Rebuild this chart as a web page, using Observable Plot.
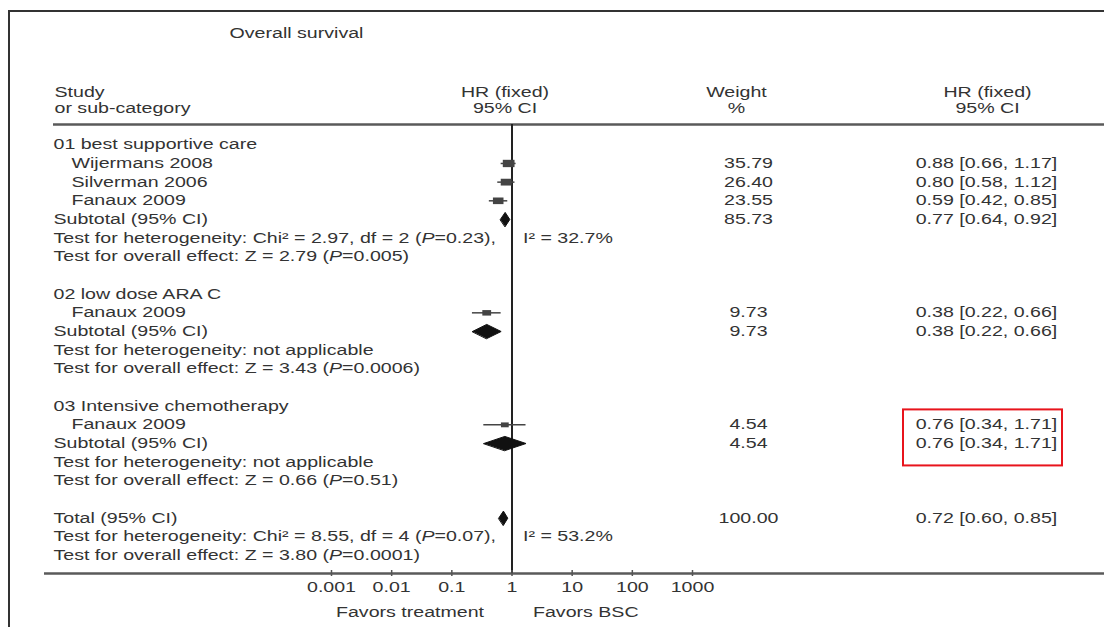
<!DOCTYPE html>
<html>
<head>
<meta charset="utf-8">
<script src="https://cdn.jsdelivr.net/npm/d3@7"></script>
<script src="https://cdn.jsdelivr.net/npm/@observablehq/plot@0.6"></script>
<style>
  html, body { margin: 0; padding: 0; background: #fff; }
  #wrap { position: relative; width: 1104px; height: 627px; overflow: hidden; }
  #border { position: absolute; left: 8px; top: 10px; width: 1200px; height: 700px;
            border-left: 2px solid #333; border-top: 2px solid #333; }
  #chart { position: absolute; left: 0; top: 0; }
</style>
</head>
<body>
<div id="wrap"><div id="border"></div><div id="chart"></div></div>
<script>
// ---------- data ----------
const title = "Overall survival";
const groups = ["01 best supportive care", "02 low dose ARA C", "03 Intensive chemotherapy"];
const studies = ["Wijermans 2008", "Silverman 2006", "Fanaux 2009", "Fanaux 2009", "Fanaux 2009"];
const studyGroup = [0, 0, 0, 1, 2];
const studyHR = [0.88, 0.80, 0.59, 0.38, 0.76];
const studyLo = [0.66, 0.58, 0.42, 0.22, 0.34];
const studyHi = [1.17, 1.12, 0.85, 0.66, 1.71];
const studyWeight = [35.79, 26.40, 23.55, 9.73, 4.54];
const subtotalHR = [0.77, 0.38, 0.76];
const subtotalLo = [0.64, 0.22, 0.34];
const subtotalHi = [0.92, 0.66, 1.71];
const subtotalWeight = [85.73, 9.73, 4.54];
const heterogeneity = [
  "Test for heterogeneity: Chi² = 2.97, df = 2 (P=0.23),",
  "Test for heterogeneity: not applicable",
  "Test for heterogeneity: not applicable"
];
const i2Text = ["I² = 32.7%", null, null];
const overallEffect = [
  "Test for overall effect: Z = 2.79 (P=0.005)",
  "Test for overall effect: Z = 3.43 (P=0.0006)",
  "Test for overall effect: Z = 0.66 (P=0.51)"
];
const totalHR = [0.72];
const totalLo = [0.60];
const totalHi = [0.85];
const totalWeight = [100.00];
const totalHet = ["Test for heterogeneity: Chi² = 8.55, df = 4 (P=0.07),"];
const totalI2 = ["I² = 53.2%"];
const totalOverall = ["Test for overall effect: Z = 3.80 (P=0.0001)"];
const tickValues = [0.001, 0.01, 0.1, 1, 10, 100, 1000];
const tickLabels = ["0.001", "0.01", "0.1", "1", "10", "100", "1000"];
const headerLeft = ["Study", "or sub-category"];
const headerMid = ["HR (fixed)", "95% CI"];
const headerWeight = ["Weight", "%"];
const headerRight = ["HR (fixed)", "95% CI"];
const favors = ["Favors treatment", "Favors BSC"];
const highlighted = ["study:4", "subtotal:2"]; // rows boxed in red

// ---------- layout (pixels -> row units) ----------
const ROW0 = 144.3, ROWH = 18.67, AXISY = 573;
const yAt = px => (px - ROW0) / ROWH;

// ---------- build table rows ----------
const f2 = d3.format(".2f");
const ciText = (h, l, u) => `${f2(h)} [${f2(l)}, ${f2(u)}]`;
const leftRows = [], studyRows = [], diamondRows = [], i2Rows = [], numRows = [];
const rowOf = {};
let r = 0;
groups.forEach((g, gi) => {
  leftRows.push({row: r++, text: g});
  studies.forEach((s, si) => {
    if (studyGroup[si] !== gi) return;
    const d = {row: r, name: s, hr: studyHR[si], lo: studyLo[si], hi: studyHi[si], w: studyWeight[si]};
    studyRows.push(d);
    numRows.push({row: r, w: f2(d.w), ci: ciText(d.hr, d.lo, d.hi)});
    rowOf["study:" + si] = r;
    r++;
  });
  leftRows.push({row: r, text: "Subtotal (95% CI)"});
  diamondRows.push({row: r, hr: subtotalHR[gi], lo: subtotalLo[gi], hi: subtotalHi[gi], id: "s" + gi});
  numRows.push({row: r, w: f2(subtotalWeight[gi]), ci: ciText(subtotalHR[gi], subtotalLo[gi], subtotalHi[gi])});
  rowOf["subtotal:" + gi] = r;
  r++;
  leftRows.push({row: r, text: heterogeneity[gi]});
  if (i2Text[gi]) i2Rows.push({row: r, text: i2Text[gi]});
  r++;
  leftRows.push({row: r++, text: overallEffect[gi]});
  r++; // blank line
});
leftRows.push({row: r, text: "Total (95% CI)"});
diamondRows.push({row: r, hr: totalHR[0], lo: totalLo[0], hi: totalHi[0], id: "t"});
numRows.push({row: r, w: f2(totalWeight[0]), ci: ciText(totalHR[0], totalLo[0], totalHi[0])});
r++;
leftRows.push({row: r, text: totalHet[0]});
i2Rows.push({row: r, text: totalI2[0]});
r++;
leftRows.push({row: r++, text: totalOverall[0]});

// diamond polygons
const HALF = 0.38;
const diamondPts = diamondRows.flatMap(d => [
  {x: d.lo, y: d.row, id: d.id},
  {x: d.hr, y: d.row - HALF, id: d.id},
  {x: d.hi, y: d.row, id: d.id},
  {x: d.hr, y: d.row + HALF, id: d.id}
]);

// wide box symbol (area from weight)
const wideBox = {
  draw(ctx, size) {
    const rr = Math.sqrt(size / Math.PI);
    const h = 3.5 + rr * 0.55, w = h * 1.6;
    ctx.moveTo(-w / 2, -h / 2); ctx.lineTo(w / 2, -h / 2);
    ctx.lineTo(w / 2, h / 2); ctx.lineTo(-w / 2, h / 2); ctx.closePath();
  }
};

const hlRows = highlighted.map(k => rowOf[k]);
const box = [{y1: d3.min(hlRows) - 0.8, y2: d3.max(hlRows) + 1.2}];

const TXT = "#333";
const plot = Plot.plot({
  width: 1104, height: 627,
  marginLeft: 0, marginRight: 0, marginTop: 0, marginBottom: 627 - AXISY,
  x: {type: "log", domain: [0.001, 1000], range: [331, 692], axis: null},
  y: {type: "linear", domain: [yAt(0), yAt(AXISY)], range: [0, AXISY], axis: null},
  r: {type: "sqrt", domain: [0, 36], range: [0, 7]},
  style: {fontFamily: "'Liberation Sans', Arial, Helvetica, sans-serif", fontSize: "14px", color: TXT, background: "transparent", overflow: "visible"},
  marks: [
    // title and headers
    Plot.text([title], {y: yAt(33), text: d => d, frameAnchor: "left", dx: 296, textAnchor: "middle"}),
    Plot.text(headerLeft, {y: (d, i) => yAt(92 + 16.5 * i), text: d => d, frameAnchor: "left", dx: 54, textAnchor: "start"}),
    Plot.text(headerMid, {x: 1, y: (d, i) => yAt(92 + 16.5 * i), text: d => d, dx: -7, textAnchor: "middle"}),
    Plot.text(headerWeight, {y: (d, i) => yAt(92 + 16.5 * i), text: d => d, frameAnchor: "left", dx: 736, textAnchor: "middle"}),
    Plot.text(headerRight, {y: (d, i) => yAt(92 + 16.5 * i), text: d => d, frameAnchor: "left", dx: 987, textAnchor: "middle"}),
    // header rule and axis rule
    Plot.ruleY([yAt(124)], {insetLeft: 53, stroke: "#5a5a5a", strokeWidth: 2.5}),
    Plot.ruleY([yAt(AXISY)], {insetLeft: 44, stroke: "#5a5a5a", strokeWidth: 2.5}),
    // line of no effect
    Plot.ruleX([1], {y1: yAt(124), y2: yAt(AXISY), stroke: "#222", strokeWidth: 2}),
    // axis ticks & labels
    Plot.ruleX(tickValues, {y1: yAt(AXISY - 3), y2: yAt(AXISY + 3), stroke: "#555", strokeWidth: 1.5}),
    Plot.text(tickValues, {x: d => d, y: yAt(587), text: (d, i) => tickLabels[i], textAnchor: "middle"}),
    Plot.text([favors[0]], {x: 1, y: yAt(612), text: d => d, dx: -28, textAnchor: "end"}),
    Plot.text([favors[1]], {x: 1, y: yAt(612), text: d => d, dx: 21, textAnchor: "start"}),
    // left column text
    Plot.text(leftRows, {y: "row", text: "text", frameAnchor: "left", dx: 53, textAnchor: "start"}),
    Plot.text(studyRows, {y: "row", text: "name", frameAnchor: "left", dx: 71, textAnchor: "start"}),
    Plot.text(i2Rows, {x: 1, y: "row", text: "text", dx: 11, textAnchor: "start"}),
    // numbers
    Plot.text(numRows, {y: "row", text: "w", frameAnchor: "left", dx: 748, textAnchor: "middle"}),
    Plot.text(numRows, {y: "row", text: "ci", frameAnchor: "left", dx: 986, textAnchor: "middle"}),
    // study CIs and boxes
    Plot.ruleY(studyRows, {x1: "lo", x2: "hi", y: "row", stroke: "#444", strokeWidth: 1.5}),
    Plot.dot(studyRows, {x: "hr", y: "row", r: "w", symbol: wideBox, fill: "#444", stroke: "none"}),
    // diamonds
    Plot.line(diamondPts, {x: "x", y: "y", z: "id", curve: "linear-closed", fill: "#111", stroke: "#111", strokeWidth: 1}),
    // highlight box
    Plot.rect(box, {y1: "y1", y2: "y2", insetLeft: 903, insetRight: 1104 - 1062, fill: "none", stroke: "#e8141c", strokeWidth: 2})
  ]
});

// horizontal stretch of the typeset text (the original is set wide) and italic P
const SVGNS = "http://www.w3.org/2000/svg";
plot.querySelectorAll("text").forEach(t => {
  const s = t.textContent;
  const k = s.indexOf("(P=");
  if (k >= 0) {
    t.textContent = "";
    t.append(s.slice(0, k + 1));
    const ts = document.createElementNS(SVGNS, "tspan");
    ts.setAttribute("font-style", "italic");
    ts.textContent = "P";
    t.append(ts);
    t.append(s.slice(k + 2));
  }
  const tr = t.getAttribute("transform") || "";
  t.setAttribute("transform", tr + " scale(1.4,1)");
});
document.getElementById("chart").append(plot);
</script>
</body>
</html>
